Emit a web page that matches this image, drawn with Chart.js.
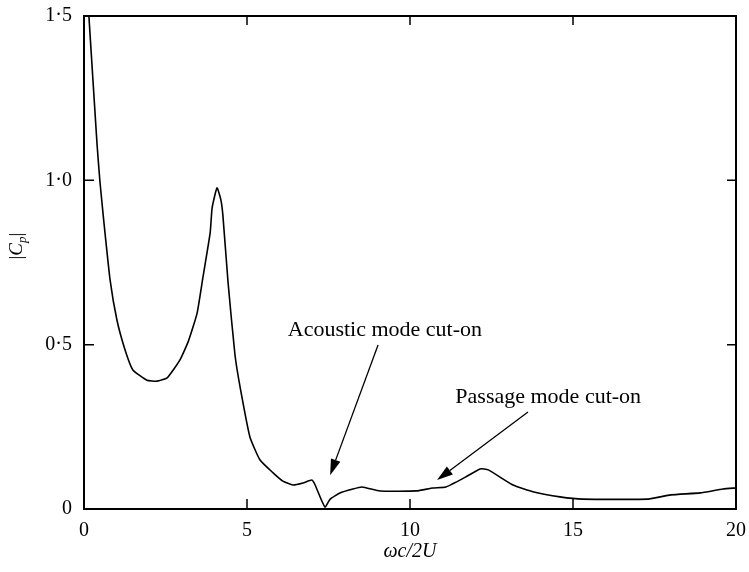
<!DOCTYPE html>
<html>
<head>
<meta charset="utf-8">
<script src="https://cdn.jsdelivr.net/npm/chart.js@4.4.1/dist/chart.umd.min.js"></script>
<style>
  html, body { margin: 0; padding: 0; background: #fff; }
  #wrap { width: 749px; height: 572px; }
</style>
</head>
<body>
<div id="wrap"><canvas id="cp-chart" width="749" height="572"></canvas></div>
<script>
// |Cp| against reduced frequency
const freq = [0.15, 0.40, 0.49, 0.61, 0.80, 1.01, 1.26, 1.50, 1.93, 2.24, 2.55, 2.94, 3.20, 3.47, 3.65, 3.87, 3.93, 4.08, 4.20, 4.26, 4.42, 4.63, 4.79, 5.09, 5.40, 5.80, 6.10, 6.41, 6.72, 6.99, 7.09, 7.39, 7.55, 7.85, 8.25, 8.53, 9.08, 10.2, 10.7, 11.1, 11.7, 12.15, 12.4, 13.16, 13.8, 14.6, 15.3, 17.3, 18.0, 18.9, 19.6, 20.0];
const cpMag = [1.50, 1.11, 0.995, 0.873, 0.697, 0.575, 0.484, 0.423, 0.392, 0.389, 0.399, 0.453, 0.51, 0.596, 0.706, 0.84, 0.916, 0.977, 0.94, 0.894, 0.688, 0.47, 0.37, 0.219, 0.149, 0.11, 0.085, 0.073, 0.079, 0.088, 0.073, 0.006, 0.03, 0.049, 0.061, 0.067, 0.055, 0.055, 0.064, 0.067, 0.097, 0.122, 0.119, 0.073, 0.052, 0.037, 0.030, 0.030, 0.043, 0.049, 0.061, 0.064];

const xTicks = [0, 5, 10, 15, 20];
const yTicks = [0, 0.5, 1.0, 1.5];
const yTickLabels = ['0', '0·5', '1·0', '1·5'];

// annotations: label position, arrow start, arrow tip (data units)
const noteText = ['Acoustic mode cut-on', 'Passage mode cut-on'];
const noteAt = [[9.23, 0.545], [14.24, 0.341]];
const arrowFrom = [[9.02, 0.499], [13.62, 0.295]];
const arrowTo = [[7.55, 0.103], [10.83, 0.088]];

const serif = '"Liberation Serif", "Times New Roman", serif';

const points = freq.map((f, i) => ({ x: f, y: cpMag[i] }));

function arrow(ctx, x1, y1, x2, y2) {
    const ang = Math.atan2(y2 - y1, x2 - x1);
    const len = 16, half = 5;
    const bx = x2 - len * Math.cos(ang), by = y2 - len * Math.sin(ang);
    ctx.beginPath();
    ctx.moveTo(x1, y1);
    ctx.lineTo(bx, by);
    ctx.stroke();
    ctx.beginPath();
    ctx.moveTo(x2, y2);
    ctx.lineTo(bx + half * Math.sin(ang), by - half * Math.cos(ang));
    ctx.lineTo(bx - half * Math.sin(ang), by + half * Math.cos(ang));
    ctx.closePath();
    ctx.fill();
}

const framePlugin = {
    id: 'frame',
    afterDraw(chart) {
        const { ctx, chartArea: a, scales: { x, y } } = chart;
        ctx.save();
        ctx.strokeStyle = '#000';
        ctx.fillStyle = '#000';
        ctx.lineWidth = 2;
        ctx.strokeRect(a.left, a.top, a.right - a.left, a.bottom - a.top);

        // inward ticks on all four sides
        ctx.lineWidth = 1.5;
        ctx.beginPath();
        xTicks.forEach(v => {
            const px = x.getPixelForValue(v);
            ctx.moveTo(px, a.bottom); ctx.lineTo(px, a.bottom - 10);
            ctx.moveTo(px, a.top); ctx.lineTo(px, a.top + 9);
        });
        yTicks.forEach(v => {
            const py = y.getPixelForValue(v);
            ctx.moveTo(a.left, py); ctx.lineTo(a.left + 10, py);
            ctx.moveTo(a.right, py); ctx.lineTo(a.right - 9, py);
        });
        ctx.stroke();

        // annotations
        ctx.font = '22px ' + serif;
        ctx.textAlign = 'center';
        ctx.textBaseline = 'middle';
        ctx.lineWidth = 1.3;
        noteText.forEach((t, i) => {
            ctx.fillText(t, x.getPixelForValue(noteAt[i][0]), y.getPixelForValue(noteAt[i][1]));
            arrow(ctx,
                x.getPixelForValue(arrowFrom[i][0]), y.getPixelForValue(arrowFrom[i][1]),
                x.getPixelForValue(arrowTo[i][0]), y.getPixelForValue(arrowTo[i][1]));
        });

        // y title |Cp| with subscript
        ctx.translate(17, y.getPixelForValue(0.8));
        ctx.rotate(-Math.PI / 2);
        ctx.textAlign = 'left';
        ctx.font = '19px ' + serif;
        const w1 = ctx.measureText('|').width;
        ctx.font = 'italic 19px ' + serif;
        const w2 = ctx.measureText('C').width;
        ctx.font = 'italic 13px ' + serif;
        const w3 = ctx.measureText('p').width;
        ctx.font = '19px ' + serif;
        const w4 = ctx.measureText('|').width;
        let cx = -(w1 + w2 + w3 + w4) / 2;
        ctx.fillText('|', cx, 0); cx += w1;
        ctx.font = 'italic 19px ' + serif;
        ctx.fillText('C', cx, 0); cx += w2;
        ctx.font = 'italic 13px ' + serif;
        ctx.fillText('p', cx, 6); cx += w3;
        ctx.font = '19px ' + serif;
        ctx.fillText('|', cx, 0);
        ctx.restore();
    }
};

new Chart(document.getElementById('cp-chart'), {
    type: 'line',
    data: {
        datasets: [{
            data: points,
            borderColor: '#000',
            borderWidth: 1.6,
            pointRadius: 0,
            tension: 0.15,
            fill: false
        }]
    },
    options: {
        responsive: false,
        animation: false,
        layout: { padding: { top: 16, right: 13, left: 0, bottom: 0 } },
        plugins: {
            legend: { display: false },
            tooltip: { enabled: false }
        },
        scales: {
            x: {
                type: 'linear',
                min: 0,
                max: 20,
                afterBuildTicks: s => { s.ticks = xTicks.map(v => ({ value: v })); },
                afterFit: s => { s.height = 63; s.paddingLeft = 0; s.paddingRight = 0; },
                grid: { display: false, drawTicks: false },
                border: { display: false },
                ticks: {
                    color: '#000',
                    padding: 10,
                    maxRotation: 0,
                    font: { family: serif, size: 20 }
                },
                title: {
                    display: true,
                    text: 'ωc/2U',
                    color: '#000',
                    padding: { top: 2, bottom: 8 },
                    font: { family: serif, size: 20, style: 'italic' }
                }
            },
            y: {
                min: 0,
                max: 1.5,
                afterBuildTicks: s => { s.ticks = yTicks.map(v => ({ value: v })); },
                afterFit: s => { s.width = 84; s.paddingTop = 0; s.paddingBottom = 0; },
                grid: { display: false, drawTicks: false },
                border: { display: false },
                ticks: {
                    color: '#000',
                    padding: 12,
                    font: { family: serif, size: 20 },
                    callback: v => yTickLabels[yTicks.indexOf(v)]
                }
            }
        }
    },
    plugins: [framePlugin]
});
</script>
</body>
</html>
